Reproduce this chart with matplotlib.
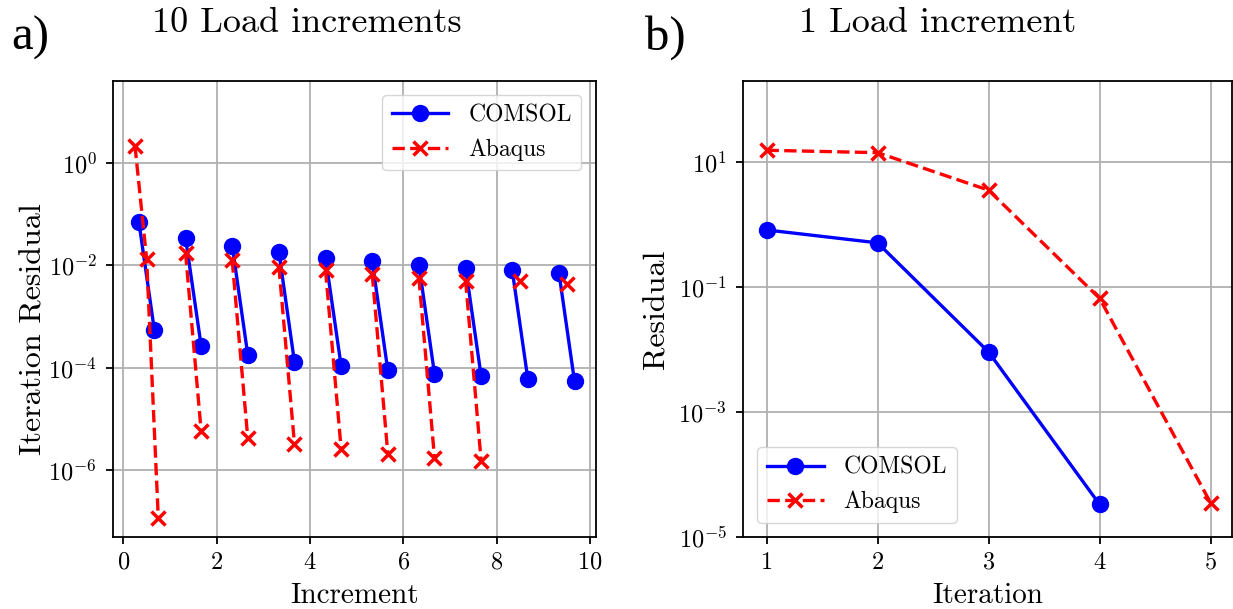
import matplotlib.pyplot as plt
import numpy as np

plt.rcParams['font.family'] = 'cmr10'
plt.rcParams['mathtext.fontset'] = 'cm'
plt.rcParams['axes.formatter.use_mathtext'] = True
plt.rcParams['axes.unicode_minus'] = False

# a) residuals per load increment (one list per increment)
comsol_inc = [[0.070, 5.3e-4], [0.034, 2.7e-4], [0.024, 1.78e-4], [0.018, 1.29e-4],
              [0.0138, 1.08e-4], [0.0118, 8.9e-5], [0.0101, 7.6e-5], [0.0089, 6.8e-5],
              [0.0079, 6.0e-5], [0.0071, 5.4e-5]]
abaqus_inc = [[2.13, 0.0132, 1.15e-7], [0.0175, 5.9e-6], [0.0124, 4.2e-6], [0.0093, 3.3e-6],
              [0.0079, 2.6e-6], [0.0066, 2.1e-6], [0.0056, 1.75e-6], [0.0050, 1.5e-6],
              [0.0048], [0.0042]]

# b) residuals per iteration, single load increment
comsol_it = [1, 2, 3, 4]
comsol_res = [0.82, 0.51, 0.0091, 3.3e-5]
abaqus_it = [1, 2, 3, 4, 5]
abaqus_res = [15.5, 14.2, 3.56, 0.066, 3.5e-5]

blue = dict(color='blue', marker='o', ls='-', lw=2.4, ms=11.5)
red = dict(color='red', marker='x', ls='--', lw=2.4, ms=10, mew=2.5)
leg = dict(fontsize=17, handlelength=2.4, handletextpad=0.85, borderaxespad=0.6)


def inc_x(i, n):
    return [i + (k + 1) / (n + 1) for k in range(n)]


fig = plt.figure(figsize=(12.33, 6.09), dpi=100)
ax1 = fig.add_axes([0.0919, 0.1187, 0.3912, 0.7483])
ax2 = fig.add_axes([0.6028, 0.1187, 0.3961, 0.7483])

for i, r in enumerate(comsol_inc):
    ax1.plot(inc_x(i, len(r)), r, label='COMSOL' if i == 0 else None, **blue)
for i, r in enumerate(abaqus_inc):
    ax1.plot(inc_x(i, len(r)), r, label='Abaqus' if i == 0 else None, **red)
ax1.set_yscale('log')
ax1.set_xlim(-0.214, 10.12)
ax1.set_ylim(10**-7.3, 10**1.593)
ax1.set_yticks([1, 1e-2, 1e-4, 1e-6])
ax1.set_xticks([0, 2, 4, 6, 8, 10])
ax1.minorticks_off()
ax1.set_xlabel('Increment', fontsize=21, labelpad=6)
ax1.set_ylabel('Iteration Residual', fontsize=23, labelpad=6)
ax1.yaxis.set_label_coords(-0.136, 0.455)
ax1.legend(loc='upper right', **leg)

ax2.plot(comsol_it, comsol_res, label='COMSOL', **blue)
ax2.plot(abaqus_it, abaqus_res, label='Abaqus', **red)
ax2.set_yscale('log')
ax2.set_xlim(0.79, 5.19)
ax2.set_ylim(1e-5, 10**2.3)
ax2.set_yticks([10, 1e-1, 1e-3, 1e-5])
ax2.set_xticks([1, 2, 3, 4, 5])
ax2.minorticks_off()
ax2.set_xlabel('Iteration', fontsize=21, labelpad=6)
ax2.set_ylabel('Residual', fontsize=23, labelpad=6)
ax2.legend(loc='lower left', **leg)

for ax in (ax1, ax2):
    ax.grid(True, color='#b0b0b0', lw=1.3)
    ax.tick_params(labelsize=17.5, width=1.3, length=4.8)
    ax.tick_params(axis='x', pad=6)
    ax.tick_params(axis='y', pad=7)
    for s in ax.spines.values():
        s.set_linewidth(1.3)

fig.text(0.2487, 0.9475, '10 Load increments', fontsize=26, ha='center', va='baseline')
fig.text(0.7603, 0.9475, '1 Load increment', fontsize=26, ha='center', va='baseline')
fig.text(0.0095, 0.918, 'a)', fontsize=35, family='Liberation Serif', ha='left', va='baseline')
fig.text(0.523, 0.918, 'b)', fontsize=35, family='Liberation Serif', ha='left', va='baseline')

plt.savefig('out.png', dpi=100)
